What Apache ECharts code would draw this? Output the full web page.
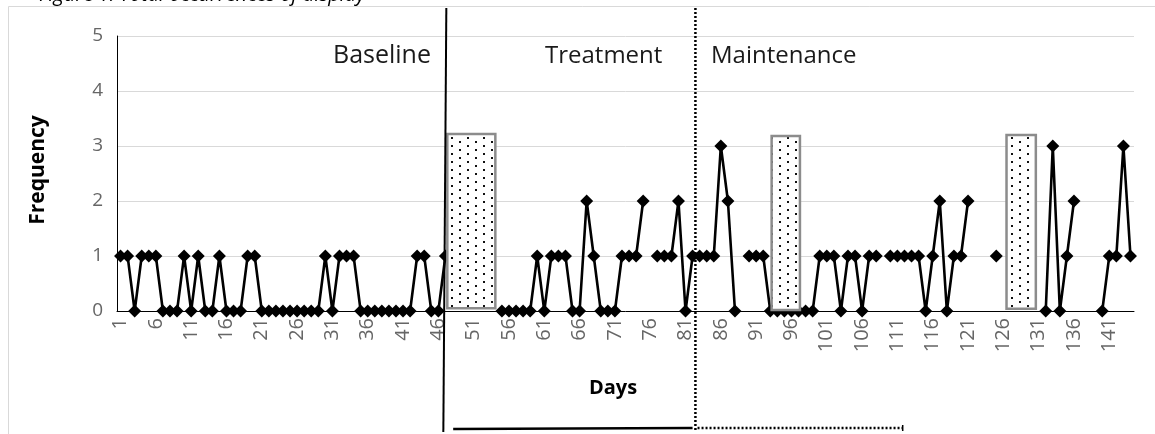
<!DOCTYPE html>
<html>
<head>
<meta charset="utf-8">
<script src="https://cdn.jsdelivr.net/npm/echarts@6/dist/echarts.min.js"></script>
<style>
html,body{margin:0;padding:0;background:#fff;}
#chart{width:1155px;height:434px;}
</style>
</head>
<body>
<div id="chart"></div>
<script>
// ---- data ----
const dayCount = 144;
const days = [];
for (let d = 1; d <= dayCount; d++) days.push(String(d));
// Baseline: days 1-47
const baselineFreq = [1,1,0,1,1,1,0,0,0,1,0,1,0,0,1,0,0,0,1,1,0,0,0,0,0,0,0,0,0,1,0,1,1,1,0,0,0,0,0,0,0,0,1,1,0,0,1];
// Treatment: days 48-82
const treatmentFreq = [null,null,null,null,null,null,null,0,0,0,0,0,1,0,1,1,1,0,0,2,1,0,0,0,1,1,1,2,null,1,1,1,2,0,1];
// Maintenance: days 83-144
const maintenanceFreq = [1,1,1,3,2,0,null,1,1,1,0,0,0,0,0,0,0,1,1,1,0,1,1,0,1,1,null,1,1,1,1,1,0,1,2,0,1,1,2,null,null,null,1,null,null,null,null,null,null,0,3,0,1,2,null,null,null,0,1,1,3,1];
const yTicks = [0,1,2,3,4,5];
const phaseLabels = ['Baseline','Treatment','Maintenance'];
// intervention boxes in data space: [dayFrom, dayTo, freqFrom, freqTo]
const interventionBoxes = [[47.27,54.07,0.05,3.22],[93.19,97.2,0.02,3.18],[126.45,130.6,0.04,3.2]];
// phase change positions (in day units)
const phaseChanges = [47.13, 82.4];

const freq = baselineFreq.concat(treatmentFreq, maintenanceFreq);

// dotted fill pattern
const pc = document.createElement('canvas');
pc.width = 16; pc.height = 8;
const pctx = pc.getContext('2d');
pctx.fillStyle = '#fff'; pctx.fillRect(0,0,16,8);
pctx.fillStyle = '#111';
pctx.fillRect(3,1,2,2);
pctx.fillRect(11,5,2,2);

const chart = echarts.init(document.getElementById('chart'), null, {renderer:'canvas'});
const FONT = 'Open Sans';
const option = {
  animation: false,
  backgroundColor: '#fff',
  grid: {left:117, right:21, top:36, bottom:123, containLabel:false},
  xAxis: [{
    type:'category', data: days, boundaryGap: true,
    axisLine:{show:true, lineStyle:{color:'#000', width:1}},
    axisTick:{show:false},
    axisLabel:{interval:4, rotate:90, margin:7, color:'#666666', fontSize:20, fontFamily:FONT},
    splitLine:{show:false}
  },{
    type:'value', min:0.5, max:dayCount+0.5, show:false
  }],
  yAxis: {
    type:'value', min:yTicks[0], max:yTicks[yTicks.length-1], interval:1,
    axisLine:{show:true, lineStyle:{color:'#000', width:1}},
    axisTick:{show:false},
    axisLabel:{color:'#666666', fontSize:19, margin:14, fontFamily:FONT},
    splitLine:{lineStyle:{color:'#d9d9d9', width:1}}
  },
  series: [{
    type:'line', data: freq, xAxisIndex:0, yAxisIndex:0,
    symbol:'diamond', symbolSize:13, showAllSymbol:true,
    lineStyle:{color:'#000', width:2.6},
    itemStyle:{color:'#000'},
    connectNulls:false, z:2
  },{
    type:'custom', xAxisIndex:1, yAxisIndex:0, data: interventionBoxes,
    encode:{x:[0,1], y:[2,3]}, silent:true, z:5, clip:false,
    renderItem: function(params, api){
      const p0 = api.coord([api.value(0), api.value(3)]);
      const p1 = api.coord([api.value(1), api.value(2)]);
      return {type:'rect', shape:{x:p0[0], y:p0[1], width:p1[0]-p0[0], height:p1[1]-p0[1]},
        style:{fill:{image:pc, repeat:'repeat'}, stroke:'#8c8c8c', lineWidth:2.5}};
    }
  }]
};
chart.setOption(option);

function px(v){ return chart.convertToPixel({xAxisIndex:1}, v); }
const xs = px(phaseChanges[0]);
const xd = px(phaseChanges[1]);
const graphics = [
  {type:'rect', shape:{x:8.5, y:6.5, width:1170, height:450}, style:{fill:null, stroke:'#d9d9d9', lineWidth:1}, z:0},
  {type:'text', x:39, y:5, style:{text:'Figure 1. Total occurrences of display', font:'italic 20px "Open Sans"', fill:'#000', textVerticalAlign:'bottom'}},
  {type:'line', shape:{x1:xs, y1:8, x2:xs-3, y2:432}, style:{stroke:'#000', lineWidth:2}, z:10},
  {type:'line', shape:{x1:xd, y1:8, x2:xd, y2:432}, style:{stroke:'#000', lineWidth:2.5, lineDash:[2,2]}, z:10},
  {type:'line', shape:{x1:px(48.1), y1:429, x2:px(82.0), y2:428}, style:{stroke:'#000', lineWidth:2.5}, z:10},
  {type:'line', shape:{x1:px(82.7), y1:428, x2:px(111.75), y2:428}, style:{stroke:'#000', lineWidth:2.5, lineDash:[2,2]}, z:10},
  {type:'line', shape:{x1:px(111.75), y1:425, x2:px(111.75), y2:431}, style:{stroke:'#000', lineWidth:1.5}, z:10},
  {type:'text', x:333, y:56, style:{text:phaseLabels[0], font:'25px "Open Sans"', fill:'#1a1a1a', textVerticalAlign:'middle'}, z:10},
  {type:'text', x:545, y:56, style:{text:phaseLabels[1], font:'24px "Open Sans"', fill:'#1a1a1a', textVerticalAlign:'middle'}, z:10},
  {type:'text', x:711, y:56, style:{text:phaseLabels[2], font:'24px "Open Sans"', fill:'#1a1a1a', textVerticalAlign:'middle'}, z:10},
  {type:'text', x:613, y:388, style:{text:'Days', font:'bold 20px "Open Sans"', fill:'#000', textAlign:'center', textVerticalAlign:'middle'}, z:10},
  {type:'text', x:38, y:170, rotation:Math.PI/2, style:{text:'Frequency', font:'bold 21px "Open Sans"', fill:'#000', textAlign:'center', textVerticalAlign:'middle'}, z:10}
];
chart.setOption({graphic: graphics});
</script>
</body>
</html>
